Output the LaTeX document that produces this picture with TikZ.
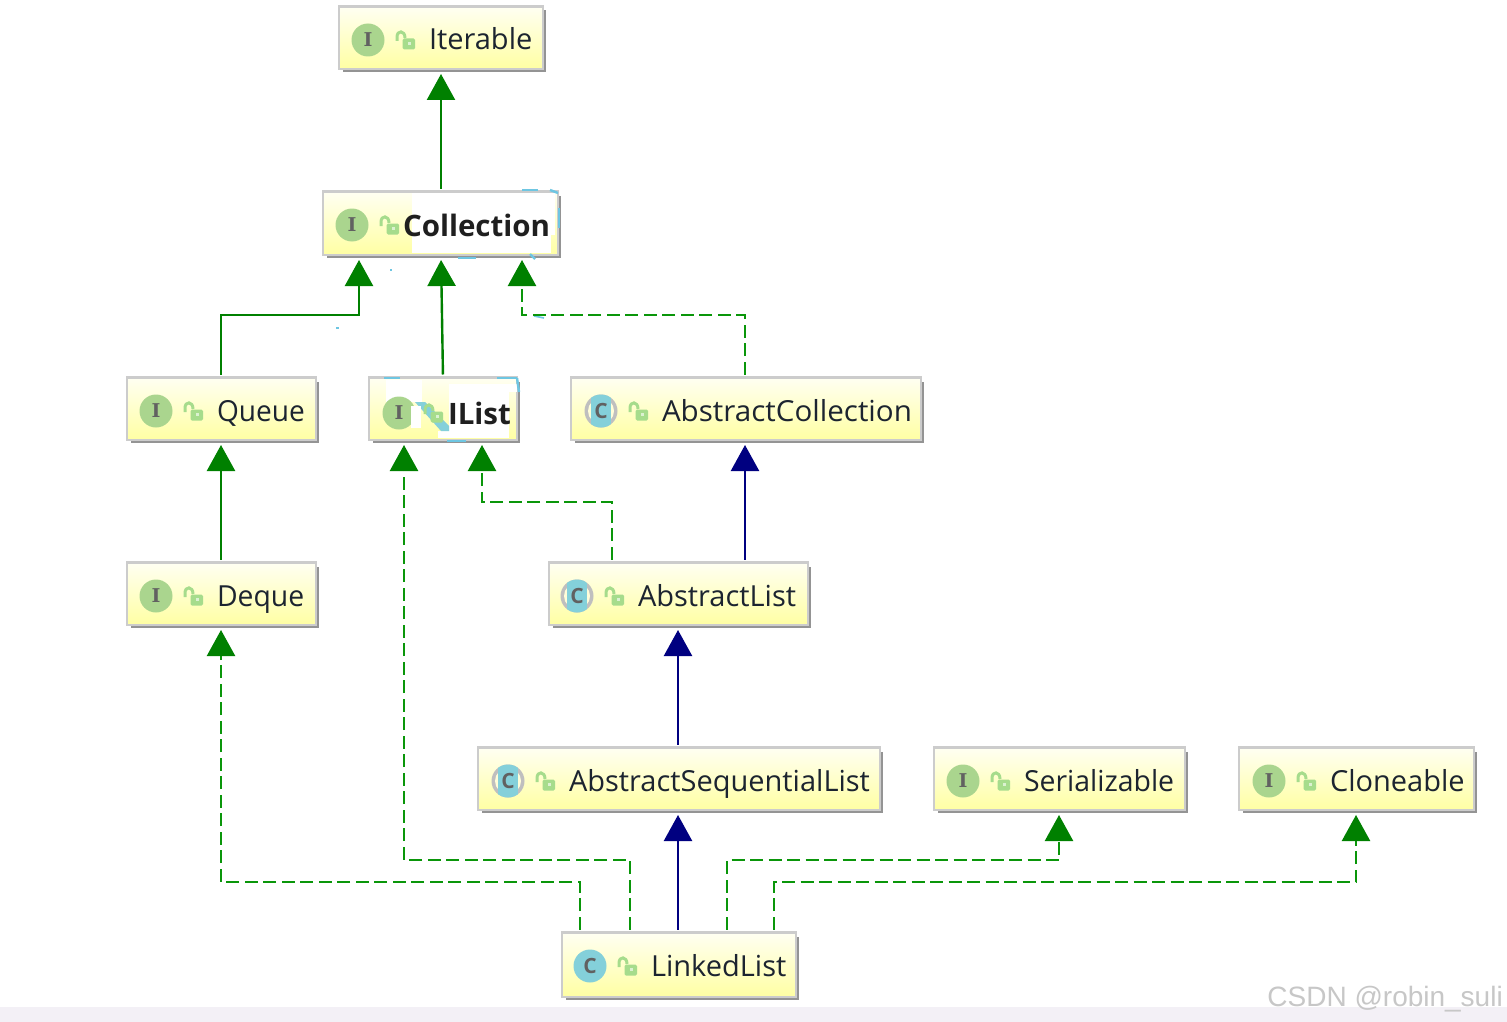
\documentclass[tikz,border=0pt]{standalone}
\usepackage{fontspec}
\setmainfont{Open Sans}
\newfontfamily\iconfont{DejaVu Serif}
\newfontfamily\markfont{Liberation Sans}
\usetikzlibrary{arrows.meta}
\definecolor{gline}{HTML}{0A960A}
\definecolor{ghead}{HTML}{008000}
\definecolor{bline}{HTML}{000080}
\definecolor{icong}{HTML}{AAD58E}
\definecolor{iconc}{HTML}{84D0DA}
\definecolor{lockg}{HTML}{A6DC8C}
\definecolor{txt}{HTML}{1C2430}
\definecolor{smear}{HTML}{6EC6E2}
\definecolor{strip}{HTML}{F3F0F6}
\tikzset{
  classbox/.style={inner sep=0pt,outer sep=0pt,anchor=north west,draw=black!20,line width=2.6pt,top color=yellow!5,bottom color=yellow!36},
  classlabel/.style={anchor=base west,inner sep=0pt,outer sep=0pt,text=txt,font=\fontsize{29}{29}\selectfont},
  boldlabel/.style={classlabel,text=black!88,font=\fontsize{29.5}{30}\selectfont\bfseries},
  iconletter/.style={inner sep=0pt,text=black!62,font=\iconfont\fontsize{19}{19}\selectfont\bfseries},
  cletter/.style={iconletter,font=\fontsize{21}{21}\selectfont\bfseries},
  gsolid/.style={draw=ghead,line width=2.4pt,-{Triangle[length=26pt,width=28pt,color=ghead]},shorten >=5pt,shorten <=3pt},
  gdash/.style={draw=gline,line width=2.4pt,dash pattern=on 13pt off 5.5pt,-{Triangle[length=26pt,width=28pt,color=ghead]},shorten >=5pt,shorten <=3pt},
  bsolid/.style={draw=bline,line width=2.4pt,-{Triangle[length=26pt,width=28pt,color=bline]},shorten >=5pt,shorten <=3pt}
}
% box: name, x1,y1,x2,y2
\newcommand{\classbox}[5]{%
  \fill[black!42] (#2+4,#3+4) rectangle (#4+3.2,#5+3.2);
  \node[classbox,minimum width={(#4-#2)*1pt},minimum height={(#5-#3)*1pt}] (#1) at (#2,#3) {};
}
\newcommand{\lockicon}[2]{%
  \draw[lockg,line width=3pt] (#1-8,#2+1) -- (#1-8,#2-3) .. controls (#1-8,#2-10) and (#1,#2-10) .. (#1,#2-2);
  \fill[lockg,rounded corners=1.5pt] (#1-2.5,#2-1.5) rectangle (#1+10,#2+9.5);
  \fill[white!60!lockg] (#1+2.5,#2+2) rectangle (#1+5.5,#2+5);
}
% interface icon: name, cx, cy
\newcommand{\ifaceicon}[3]{%
  \fill[icong] (#2,#3) circle (16.5);
  \node[iconletter] (#1-icon) at (#2,#3) {I};
  \lockicon{#2+37}{#3}
}
% abstract class icon
\newcommand{\abstracticon}[3]{%
  \fill[black!25] (#2,#3) circle (16.5);
  \fill[yellow!15] (#2,#3) circle (13);
  \begin{scope}
    \clip (#2,#3) circle (16.5);
    \fill[iconc] (#2-10,#3-17) rectangle (#2+10,#3+17);
  \end{scope}
  \node[cletter] (#1-icon) at (#2,#3) {C};
  \lockicon{#2+37}{#3}
}
\newcommand{\classicon}[3]{%
  \fill[iconc] (#2,#3) circle (16.5);
  \node[cletter] (#1-icon) at (#2,#3) {C};
  \lockicon{#2+37}{#3}
}
\begin{document}
\begin{tikzpicture}[x=1pt,y=-1pt]
\useasboundingbox (0,0) rectangle (1507,1022);
\fill[white] (0,0) rectangle (1507,1022);
\fill[strip] (0,1007) rectangle (1507,1022);

\classbox{iterable}{339}{6.5}{543}{69}
\classbox{collection}{323}{191.5}{558}{255}
\classbox{queue}{127}{377.5}{316}{440}
\classbox{ilist}{369}{377.5}{517}{440}
\classbox{abscoll}{571}{377.5}{921}{440}
\classbox{deque}{127}{562.5}{316}{625}
\classbox{abslist}{549}{562.5}{808}{625}
\classbox{absseq}{478}{747.5}{880}{810}
\classbox{serial}{934}{747.5}{1185}{810}
\classbox{clone}{1239}{747.5}{1474}{810}
\classbox{linked}{562}{932.5}{796}{997}

% retouched patches behind the bold labels
\fill[white] (412,193) rectangle (551,253);
\fill[white] (551,193) rectangle (555,235);
\fill[white] (386,380) rectangle (422,402);
\fill[white] (449,384) rectangle (517,392);
\fill[white] (449,392) rectangle (509,431);
\fill[white] (438,431) rectangle (509,438);
\fill[white] (411,406) rectangle (421,428);
\foreach \a/\b/\c/\d in {522/190/538/190, 550/190/558/193, 559/208/559/228, 458/258/476/258, 530/254/535/259, 384/378/400/378, 497/378/517/378, 517/378/519/392, 447/441/466/441}
  \draw[smear,line width=2.4pt] (\a,\b) -- (\c,\d);
\fill[iconc] (415,402) -- (425,402) -- (449,426) -- (449,431) -- (441,431) -- cycle;
\foreach \a/\b/\c/\d in {336/328/339/328, 390/270/392/270, 534/316/544/318}
  \draw[smear,line width=1.6pt] (\a,\b) -- (\c,\d);

\ifaceicon{iterable}{368}{40}
\ifaceicon{collection}{352}{225}
\ifaceicon{queue}{156}{411}
\ifaceicon{deque}{156}{596}
\ifaceicon{serial}{963}{781}
\ifaceicon{clone}{1269}{781}
\abstracticon{abscoll}{601}{411}
\abstracticon{abslist}{577}{596}
\abstracticon{absseq}{508}{781}
\classicon{linked}{590}{966}
% IList icon (narrower spacing)
\fill[icong] (399,413) circle (16.5);
\fill[white] (411,406) rectangle (421,428);
\node[iconletter] (ilist-icon) at (399,413) {I};
\lockicon{433}{413}

\node[classlabel] (iterable-label) at (429,50) {Iterable};
\node[boldlabel] (collection-label) at (403,236) {Collection};
\node[classlabel] (queue-label) at (217,421) {\scalebox{.967}[1]{Queue}};
\node[boldlabel] (ilist-label) at (448,424) {IList};
\node[classlabel] (abscoll-label) at (662,421) {\scalebox{1.02}[1]{AbstractCollection}};
\node[classlabel] (deque-label) at (217,606) {\scalebox{.977}[1]{Deque}};
\node[classlabel] (abslist-label) at (638,606) {AbstractList};
\node[classlabel] (absseq-label) at (569,791) {AbstractSequentialList};
\node[classlabel] (serial-label) at (1024,791) {\scalebox{.98}[1]{Serializable}};
\node[classlabel] (clone-label) at (1330,791) {Cloneable};
\node[classlabel] (linked-label) at (651,976) {LinkedList};

% connectors
\draw[gsolid] (441,0 |- collection.north) -- (441,0 |- iterable.south);
\draw[gsolid] (221,0 |- queue.north) -- (221,315) -- (359,315) -- (359,0 |- collection.south);
\draw[gsolid] (443,0 |- ilist.north) -- (441,0 |- collection.south);
\draw[gdash] (745,0 |- abscoll.north) -- (745,315) -- (522,315) -- (522,0 |- collection.south);
\draw[gsolid] (221,0 |- deque.north) -- (221,0 |- queue.south);
\draw[gdash] (612,0 |- abslist.north) -- (612,502) -- (482,502) -- (482,0 |- ilist.south);
\draw[bsolid] (745,0 |- abslist.north) -- (745,0 |- abscoll.south);
\draw[bsolid] (678,0 |- absseq.north) -- (678,0 |- abslist.south);
\draw[bsolid] (678,0 |- linked.north) -- (678,0 |- absseq.south);
\draw[gdash] (580,0 |- linked.north) -- (580,882) -- (221,882) -- (221,0 |- deque.south);
\draw[gdash] (630,0 |- linked.north) -- (630,860) -- (404,860) -- (404,0 |- ilist.south);
\draw[gdash] (727,0 |- linked.north) -- (727,860) -- (1059,860) -- (1059,0 |- serial.south);
\draw[gdash] (774,0 |- linked.north) -- (774,882) -- (1356,882) -- (1356,0 |- clone.south);

\node[anchor=base east,inner sep=0pt,text=black!22,font=\markfont\fontsize{28}{28}\selectfont] (mark) at (1503,1006) {CSDN @robin\_suli};
\end{tikzpicture}
\end{document}
